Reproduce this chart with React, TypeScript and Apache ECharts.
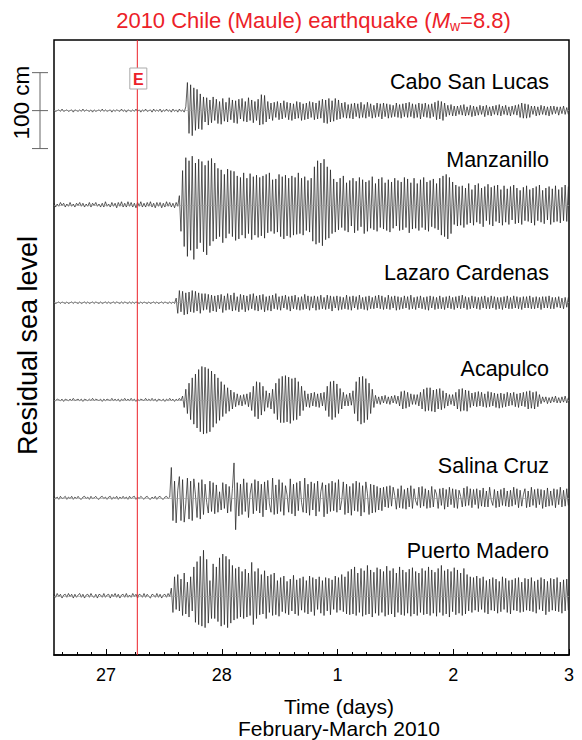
import React, { useEffect, useRef } from "react";
import * as echarts from "echarts";

// ---------------- data ----------------
const stations = ["Cabo San Lucas", "Manzanillo", "Lazaro Cardenas", "Acapulco", "Salina Cruz", "Puerto Madero"];
// vertical offset of each record (cm) on the stacked axis
const stationOffsets = [717, 593, 464, 336, 207, 78];
const startDay = 26.55; // first sample (day of Feb 2010)
const stepDay = 1 / 72; // 20-minute samples
const quakeDay = 27.27; // earthquake origin time
const xMin = 26.55;
const xMax = 31;
const yMin = 0;
const yMax = 810;
const xTickValues = [27, 28, 29, 30, 31];
const xTickLabels = ["27", "28", "1", "2", "3"];
const scaleBarCm = 100;

// residual sea level (cm), 20-min samples
const caboSanLucas = [
  1, -1, 0, 1, -1, 2, -1, 0, 1, -1,
  0, 1, -2, 1, 0, -1, 1, -1, 2, -1,
  1, 0, -1, 1, -2, 1, -1, 0, 1, -1,
  2, -1, 1, -1, 0, 1, -2, 1, -1, 1,
  0, -1, 2, -1, 1, -2, 1, 0, -1, 1,
  -1, 2, -1, 1, -2, 1, -1, 2, -1, 0,
  1, -2, 2, -1, 1, -1, 2, -2, 1, -1,
  2, -1, 1, -2, 2, -1, 1, -2, 2, -1,
  1, -2, 5, 37, -30, 34, -33, 30, -26, 28,
  -24, 22, -25, 18, -15, 17, -19, 14, -16, 18,
  -13, 15, -17, 12, -18, 16, -14, 11, -15, 17,
  -12, 14, -16, 13, -17, 15, -11, 16, -14, 12,
  -15, 17, -13, 14, -16, 12, -13, 15, -19, 21,
  -18, 20, -15, 12, -11, 10, -13, 11, -9, 12,
  -12, 10, -11, 13, -9, 11, -12, 10, -13, 9,
  -11, 12, -10, 11, -13, 9, -12, 10, -11, 12,
  -9, 11, -12, 10, -11, 13, -10, 15, -16, 14,
  -17, 16, -15, 13, -14, 16, -12, 14, -11, 10,
  -9, 11, -10, 8, -10, 9, -11, 10, -8, 9,
  -10, 11, -9, 8, -10, 11, -8, 9, -10, 7,
  -9, 10, -8, 9, -11, 10, -8, 9, -10, 8,
  -9, 7, -8, 10, -9, 8, -10, 9, -8, 10,
  -9, 11, -8, 9, -10, 8, -9, 10, -11, 9,
  -8, 10, -9, 8, -10, 9, -8, 11, -12, 13,
  -11, 12, -13, 10, -8, 7, -6, 8, -7, 6,
  -7, 6, -5, 7, -6, 8, -7, 5, -6, 7,
  -8, 6, -7, 5, -6, 7, -5, 6, -8, 7,
  -6, 5, -7, 6, -5, 7, -6, 8, -7, 6,
  -5, 7, -6, 5, -7, 6, -5, 7, -6, 8,
  -9, 10, -10, 9, -10, 8, -9, 6, -5, 6,
  -7, 5, -6, 7, -5, 6, -6, 5, -7, 6,
  -5, 6, -4, 5, -6, 5, -4, 6, -5, 4,
  -5,
];
const manzanillo = [
  2, -3, 1, -2, 3, -1, 2, -3, 1, -2,
  3, -2, 1, -3, 2, -1, 3, -2, 2, -3,
  1, -2, 3, -3, 2, -1, 3, -2, 1, -3,
  2, -3, 4, -2, 1, -3, 3, -2, 2, -4,
  3, -2, 4, -3, 2, -3, 4, -2, 3, -3,
  2, -4, 3, -2, 4, -3, 2, -3, 3, -2,
  4, -3, 2, -4, 3, -2, 3, -4, 2, -3,
  4, -2, 3, -3, 2, -4, 3, -2, 12, -35,
  45, -55, 62, -68, 58, -60, 64, -72, 55, -58,
  60, -50, 57, -62, 52, -66, 58, -54, 61, -48,
  55, -45, 48, -42, 46, -50, 40, -44, 47, -38,
  45, -42, 44, -47, 38, -45, 36, -40, 42, -44,
  35, -38, 41, -46, 37, -40, 39, -43, 36, -41,
  38, -44, 40, -37, 42, -35, 33, -38, 34, -36,
  40, -42, 37, -45, 39, -41, 35, -43, 38, -40,
  36, -39, 42, -38, 35, -40, 37, -34, 32, -36,
  35, -48, 50, -52, 58, -50, 55, -54, 60, -46,
  50, -44, 46, -38, 34, -36, 30, -33, 35, -30,
  38, -34, 29, -36, 32, -28, 35, -37, 31, -34,
  36, -29, 33, -38, 30, -35, 32, -31, 37, -33,
  28, -35, 34, -30, 36, -32, 29, -34, 33, -36,
  30, -31, 35, -28, 32, -34, 30, -33, 36, -30,
  34, -37, 29, -32, 35, -31, 28, -34, 33, -30,
  36, -33, 30, -35, 32, -29, 34, -31, 28, -33,
  35, -40, 38, -42, 40, -45, 36, -38, 30, -26,
  26, -28, 24, -27, 25, -30, 22, -26, 28, -24,
  20, -27, 26, -23, 28, -25, 22, -29, 24, -21,
  27, -26, 23, -28, 25, -22, 26, -24, 20, -27,
  25, -23, 21, -26, 24, -20, 26, -25, 22, -24,
  19, -26, 23, -21, 25, -22, 20, -24, 22, -27,
  24, -21, 26, -23, 19, -25, 22, -20, 24, -26,
  21, -23, 25, -22, 20, -24, 23, -21, 26, -22,
  24,
];
const lazaroCardenas = [
  1, -1, 0, 1, -1, 1, 0, -1, 1, -1,
  0, 1, -1, 1, 0, -1, 1, -1, 0, 1,
  -1, 1, -1, 0, 1, -1, 1, 0, -1, 1,
  -1, 0, 1, -1, 1, -1, 0, 1, -1, 1,
  0, -1, 1, -1, 1, 0, -1, 1, -1, 1,
  -1, 1, 0, -1, 1, -1, 1, 0, -1, 1,
  -1, 0, 1, -1, 1, -1, 0, 1, -1, 1,
  0, -1, 1, -1, 1, -1, 6, -14, 16, -12,
  15, -16, 13, -15, 14, -12, 16, -13, 15, -11,
  13, -14, 12, -10, 12, -9, 11, -13, 10, -11,
  9, -12, 10, -8, 11, -13, 9, -10, 12, -9,
  10, -11, 13, -10, 8, -12, 11, -9, 10, -12,
  9, -10, 11, -8, 12, -10, 9, -11, 10, -9,
  11, -12, 8, -10, 9, -11, 10, -8, 12, -9,
  8, -10, 9, -7, 10, -9, 8, -11, 9, -8,
  10, -9, 7, -10, 8, -9, 11, -8, 9, -10,
  8, -7, 9, -10, 8, -9, 10, -8, 7, -9,
  10, -8, 9, -11, 8, -7, 9, -10, 8, -9,
  7, -8, 10, -9, 8, -10, 9, -7, 8, -9,
  10, -8, 7, -9, 8, -10, 9, -8, 7, -8,
  9, -7, 10, -8, 9, -9, 7, -8, 10, -9,
  8, -7, 9, -10, 8, -9, 7, -8, 9, -7,
  8, -9, 10, -8, 7, -9, 8, -7, 9, -8,
  7, -9, 8, -10, 9, -7, 8, -9, 7, -8,
  9, -8, 7, -9, 8, -7, 9, -8, 7, -9,
  8, -7, 9, -8, 10, -7, 8, -9, 7, -8,
  9, -7, 8, -8, 7, -9, 8, -7, 9, -8,
  7, -8, 9, -7, 8, -9, 7, -8, 7, -9,
  8, -7, 9, -8, 7, -8, 9, -7, 8, -8,
  7, -9, 8, -7, 8, -7, 9, -8, 7, -8,
  8, -7, 7, -9, 8, -7, 8, -7, 9, -8,
  7, -8, 7, -6, 8, -7, 6, -8, 7, -6,
  7,
];
const acapulco = [
  1, -1, 1, 0, -1, 1, -2, 1, 0, -1,
  1, -1, 2, -1, 0, 1, -1, 1, -2, 1,
  0, -1, 1, -1, 2, -1, 1, 0, -1, 1,
  -2, 1, -1, 1, 0, -1, 2, -1, 1, -1,
  1, -2, 1, -1, 2, -1, 1, -1, 2, -1,
  1, -2, 1, -1, 1, 0, -1, 2, -1, 1,
  -1, 2, -1, 1, -2, 1, 0, -1, 1, -2,
  1, -1, 2, -1, 1, -2, 1, -1, 2, -1,
  5, -10, 14, -18, 22, -26, 29, -32, 34, -37,
  40, -42, 44, -45, 43, -44, 41, -42, 38, -36,
  34, -31, 29, -27, 24, -22, 20, -18, 16, -15,
  13, -12, 10, -9, 8, -7, 6, -8, 7, -6,
  8, -9, 10, -14, 18, -22, 24, -25, 23, -20,
  18, -15, 12, -10, 9, -12, 14, -18, 22, -26,
  28, -30, 31, -30, 32, -29, 30, -31, 28, -27,
  29, -26, 24, -21, 18, -14, 12, -9, 8, -10,
  9, -8, 10, -9, 8, -10, 9, -8, 10, -14,
  18, -22, 24, -26, 25, -23, 21, -18, 15, -12,
  10, -8, 7, -8, 9, -7, 12, -18, 24, -28,
  30, -32, 31, -30, 28, -26, 22, -18, 14, -10,
  6, -5, 4, -6, 5, -4, 6, -5, 4, -6,
  5, -4, 6, -5, 5, -8, 11, -12, 12, -11,
  10, -9, 8, -6, 7, -6, 7, -8, 10, -12,
  14, -15, 16, -14, 16, -15, 13, -16, 14, -12,
  15, -13, 12, -11, 9, -8, 7, -6, 7, -8,
  10, -12, 14, -15, 15, -14, 13, -15, 12, -10,
  9, -8, 10, -9, 11, -8, 10, -9, 8, -10,
  11, -9, 10, -8, 9, -10, 8, -11, 9, -10,
  8, -9, 10, -8, 9, -7, 10, -9, 8, -10,
  9, -8, 10, -9, 11, -12, 12, -11, 10, -12,
  11, -9, 7, -5, 4, -3, 4, -5, 3, -4,
  4, -3, 5, -4, 3, -4, 4, -3, 5, -4,
  3,
];
const salinaCruz = [
  2, -1, 1, -2, 2, -1, 0, 2, -2, 1,
  -1, 2, -2, 1, -1, 2, -1, -2, 1, 2,
  -1, 1, -2, 2, -1, 0, 2, -1, -2, 1,
  2, -1, 1, -2, 1, 2, -2, 1, -1, 2,
  -2, 1, -1, 2, -1, 1, -2, 2, -1, 1,
  2, -2, 1, -1, 2, 0, -2, 1, 2, -1,
  -2, 1, -1, 2, -2, 1, 2, -1, -2, 1,
  2, -1, 1, 40, -30, 22, -33, 10, 28, -30,
  24, -32, -8, 26, -28, 22, -30, 25, 4, -26,
  20, -28, 24, -22, 18, -6, -20, 22, -18, 20,
  -21, 17, -19, 8, -16, 20, -14, 18, -20, 15,
  -18, 12, 46, -42, 20, -24, 18, -22, 25, -18,
  20, -26, 5, 19, -21, 24, -17, 22, -20, 18,
  -25, 21, -16, 23, -8, -19, 26, -22, 17, -21,
  24, -18, 20, -23, 16, 4, -19, 25, -21, 18,
  -24, 20, -17, 22, -6, -19, 26, -20, 18, -23,
  21, -16, 19, -24, 22, -18, 8, 20, -25, 17,
  -21, 19, -18, 22, -17, 20, -19, 24, -16, -4,
  21, -22, 18, -20, 15, -23, 19, -17, 22, -18,
  20, -24, 16, -19, 21, 6, -22, 18, -20, 17,
  -19, 15, -16, 13, -17, 14, -12, 15, -13, 16,
  -11, 14, 3, -15, 12, -13, 16, -14, 11, -15,
  13, -12, 16, -14, 12, -4, -10, 14, -13, 15,
  -11, 12, -14, 10, -13, 15, -12, 11, 5, -14,
  12, -10, 13, -15, 11, -12, 14, -9, 12, -13,
  11, -14, 10, 2, -12, 13, -11, 15, -10, 12,
  -13, 11, -9, 12, -14, 10, -11, 13, -12, 9,
  -12, 14, -3, -10, 11, -13, 9, -12, 11, -10,
  13, -11, 9, -12, 10, -11, 14, -9, 12, -13,
  10, -11, 4, 12, -13, 9, -12, 14, -10, 11,
  -13, 12, -9, 11, -14, 10, -12, 13, -11, 9,
  -10, 12, -13, 11, -9, 14, -12, 10, -11, 12,
  -10,
];
const puertoMadero = [
  2, -2, 3, -1, 2, -3, 1, 2, -2, 3,
  -1, 2, -3, 2, -2, 1, 3, -2, 2, -3,
  1, 2, -2, 3, -1, -2, 2, -3, 2, 1,
  -2, 3, -2, 1, 2, -3, 2, -1, 3, -2,
  2, -3, 1, 2, -2, 3, -2, 1, -2, 3,
  -1, 2, -3, 2, 1, -2, 3, -2, 2, -1,
  -3, 2, 1, -2, 3, -2, 2, -3, 1, 2,
  -2, 3, -1, 10, -22, 25, -18, 28, -20, 22,
  -26, 30, -24, 18, -28, 25, -20, 38, -35, 45,
  -38, 52, -40, 60, -42, 48, -36, 20, -30, 42,
  -30, 38, -34, 50, -40, 55, -38, 52, -42, 48,
  -36, 40, -32, 36, -30, 38, -28, 32, -30, 35,
  -28, 30, -26, 44, -38, 32, -30, 36, -25, 28,
  -24, 33, -30, 26, -22, 28, -26, 30, -25, 20,
  -27, 24, -21, 26, -23, 19, -25, 22, -20, 27,
  -24, 21, -26, 23, -19, 25, -22, 20, -24, 26,
  -21, 24, -26, 22, -18, 25, -23, 20, -26, 24,
  -20, 23, -25, 21, -18, 26, -22, 24, -19, 28,
  -21, 25, -24, 32, -25, 35, -24, 38, -26, 30,
  -22, 36, -27, 33, -25, 40, -24, 34, -28, 31,
  -23, 37, -26, 35, -22, 32, -27, 39, -25, 33,
  -24, 36, -28, 30, -22, 38, -25, 34, -26, 31,
  -23, 35, -27, 37, -24, 32, -26, 30, -22, 36,
  -25, 33, -24, 38, -26, 34, -23, 31, -27, 36,
  -22, 40, -26, 33, -24, 35, -28, 32, -21, 37,
  -25, 34, -23, 30, -26, 36, -24, 28, -20, 25,
  -22, 24, -19, 26, -21, 23, -18, 25, -22, 20,
  -24, 22, -19, 24, -20, 22, -23, 19, -21, 25,
  -18, 23, -22, 20, -24, 21, -19, 23, -20, 24,
  -22, 18, -21, 23, -19, 22, -20, 24, -21, 19,
  -23, 21, -18, 24, -20, 22, -25, 19, -21, 23,
  -19, 22, -20, 24, -21, 18, -23, 21, -20, 22,
  -19,
];
const seriesValues = [caboSanLucas, manzanillo, lazaroCardenas, acapulco, salinaCruz, puertoMadero];

// ---------------- styles ----------------
const FONT = "'Liberation Sans', Arial, Helvetica, sans-serif";
const RED = "#ec2128";
const labelY = [82, 160, 273, 369, 466, 551];

export default function App() {
  const ref = useRef<HTMLDivElement>(null);

  useEffect(() => {
    document.body.style.margin = "0";
    const chart = echarts.init(ref.current as HTMLDivElement, null, { renderer: "svg" });

    // 3-hour minor ticks
    const minorTicks: number[] = [];
    for (let k = Math.ceil(xMin * 8); k / 8 < xMax; k++) {
      if (k % 8 !== 0) minorTicks.push(k / 8);
    }

    const series: any[] = seriesValues.map((vals, si) => ({
      type: "line",
      name: stations[si],
      xAxisIndex: 0,
      yAxisIndex: 0,
      showSymbol: false,
      symbol: "none",
      silent: true,
      clip: true,
      z: 3,
      data: vals.map((v, k) => [startDay + k * stepDay, stationOffsets[si] + v]),
      lineStyle: { color: "#1c1c1c", width: 0.7 },
      markLine: {
        silent: true,
        symbol: "none",
        label: { show: false },
        lineStyle: { color: "#9a9a9a", width: 0.6, type: "solid" },
        data: [{ yAxis: stationOffsets[si] }],
      },
    }));

    // earthquake origin time: vertical red line
    series.push({
      type: "line",
      name: "quake",
      xAxisIndex: 0,
      yAxisIndex: 0,
      showSymbol: false,
      symbol: "none",
      silent: true,
      z: 5,
      data: [
        [quakeDay, yMin],
        [quakeDay, yMax],
      ],
      lineStyle: { color: RED, width: 1 },
    });

    chart.setOption({
      animation: false,
      grid: {
        left: 54,
        right: 13,
        top: 40,
        bottom: 85,
        show: true,
        borderColor: "#000",
        borderWidth: 1.5,
        backgroundColor: "transparent",
      },
      xAxis: [
        {
          type: "value",
          min: xMin,
          max: xMax,
          position: "bottom",
          axisLine: { show: true, lineStyle: { color: "#000", width: 1.5 } },
          axisTick: {
            show: true,
            inside: true,
            length: 6,
            customValues: xTickValues,
            lineStyle: { color: "#000", width: 1 },
          },
          axisLabel: {
            show: true,
            customValues: xTickValues,
            formatter: (v: number) => {
              const idx = xTickValues.indexOf(Math.round(v));
              return idx >= 0 ? xTickLabels[idx] : "";
            },
            fontSize: 18,
            color: "#000",
            fontFamily: FONT,
            margin: 11,
          },
          splitLine: { show: false },
        },
        {
          type: "value",
          min: xMin,
          max: xMax,
          position: "bottom",
          axisLine: { show: false },
          axisTick: {
            show: true,
            inside: true,
            length: 3,
            customValues: minorTicks,
            lineStyle: { color: "#000", width: 1 },
          },
          axisLabel: { show: false },
          splitLine: { show: false },
        },
      ],
      yAxis: {
        type: "value",
        min: yMin,
        max: yMax,
        axisLine: { show: false },
        axisTick: { show: false },
        axisLabel: { show: false },
        splitLine: { show: false },
      },
      series,
    });

    const xPx = (v: number) => chart.convertToPixel({ xAxisIndex: 0 }, v) as number;
    const yPx = (v: number) => chart.convertToPixel({ yAxisIndex: 0 }, v) as number;

    const qx = xPx(quakeDay);
    const barTop = yPx(stationOffsets[0] + scaleBarCm / 2);
    const barMid = yPx(stationOffsets[0]);
    const barBot = yPx(stationOffsets[0] - scaleBarCm / 2);
    const plotCenterX = (xPx(xMin) + xPx(xMax)) / 2;
    const plotCenterY = (yPx(yMin) + yPx(yMax)) / 2;
    const barStyle = { stroke: "#666", lineWidth: 1 };
    const center = { align: "center", verticalAlign: "middle", textAlign: "center", textVerticalAlign: "middle" };

    const graphic: any[] = [
      {
        type: "text",
        x: plotCenterX + 2,
        y: 20,
        style: {
          text: "{a|2010 Chile (Maule) earthquake (}{i|M}{s|w}{a|=8.8)}",
          ...center,
          rich: {
            a: { fontSize: 22, fill: RED, fontFamily: FONT, lineHeight: 26 },
            i: { fontSize: 22, fill: RED, fontFamily: FONT, fontStyle: "italic", lineHeight: 26 },
            s: { fontSize: 14, fill: RED, fontFamily: FONT, lineHeight: 12, verticalAlign: "bottom" },
          },
        },
      },
      ...stations.map((name, i) => ({
        type: "text",
        x: 549,
        y: labelY[i],
        z: 10,
        style: {
          text: name,
          fontSize: 21.5,
          fontFamily: FONT,
          fill: "#000",
          align: "right",
          verticalAlign: "middle",
          textAlign: "right",
          textVerticalAlign: "middle",
        },
      })),
      // "E" marker
      {
        type: "rect",
        z: 10,
        shape: { x: qx - 7.5, y: 68, width: 17, height: 21 },
        style: { fill: "#fff", stroke: "#aaa", lineWidth: 1 },
      },
      {
        type: "text",
        z: 11,
        x: qx + 1,
        y: 79,
        style: { text: "E", fontSize: 16, fontWeight: "bold", fontFamily: FONT, fill: RED, ...center },
      },
      // 100 cm scale bar
      { type: "line", shape: { x1: 40, y1: barTop, x2: 40, y2: barBot }, style: barStyle },
      { type: "line", shape: { x1: 32, y1: barTop, x2: 48, y2: barTop }, style: barStyle },
      { type: "line", shape: { x1: 32, y1: barMid, x2: 48, y2: barMid }, style: barStyle },
      { type: "line", shape: { x1: 32, y1: barBot, x2: 48, y2: barBot }, style: barStyle },
      {
        type: "text",
        x: 21,
        y: barMid - 8,
        rotation: Math.PI / 2,
        style: { text: "100 cm", fontSize: 22.5, fontFamily: FONT, fill: "#000", ...center },
      },
      // y axis title
      {
        type: "text",
        x: 28,
        y: plotCenterY - 2,
        rotation: Math.PI / 2,
        style: { text: "Residual sea level", fontSize: 27, fontFamily: FONT, fill: "#000", ...center },
      },
      // x axis title
      {
        type: "text",
        x: 339,
        y: 706,
        style: { text: "Time (days)", fontSize: 21, fontFamily: FONT, fill: "#000", ...center },
      },
      {
        type: "text",
        x: 339,
        y: 728,
        style: { text: "February-March 2010", fontSize: 21, fontFamily: FONT, fill: "#000", ...center },
      },
    ];

    chart.setOption({ graphic });

    return () => {
      chart.dispose();
    };
  }, []);

  return (
    <div
      ref={ref}
      style={{ position: "fixed", left: 0, top: 0, width: 582, height: 740, background: "#fff" }}
    />
  );
}
